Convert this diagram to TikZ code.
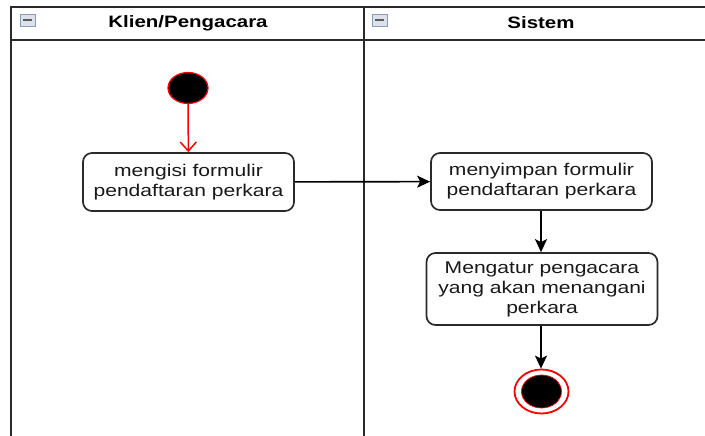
\documentclass[tikz,border=0pt]{standalone}
\usepackage{fontspec}
\setmainfont[FakeStretch=1.24]{Liberation Sans}
\usetikzlibrary{arrows.meta,shapes.geometric}
\definecolor{frame}{HTML}{2A2A2A}
\definecolor{iconfill}{HTML}{DCE2EC}
\definecolor{iconline}{HTML}{8C9AB2}
\definecolor{umlred}{HTML}{FF0000}
\tikzset{
  lane/.style={draw=frame, line width=2pt},
  act/.style={draw=frame, line width=1.7pt, rounded corners=9pt, fill=white, align=center,
    inner sep=0pt, font=\fontsize{17}{20}\selectfont, text=black!90},
  flow/.style={draw=black, line width=1.6pt, -{Stealth[length=13pt,width=12pt,inset=3pt]}},
  redflow/.style={draw=umlred, line width=1.5pt, -{Straight Barb[length=9pt,width=16pt]}},
  hdr/.style={font=\bfseries\fontsize{16.5}{18}\selectfont, text=black},
  icon/.style={draw=iconline, fill=iconfill, line width=0.9pt, minimum width=15pt, minimum height=12pt, inner sep=0pt},
}
\begin{document}
\begin{tikzpicture}[x=1pt,y=-1pt]
\useasboundingbox (0,0) rectangle (705,436);
\fill[white] (0,0) rectangle (705,436);
% swimlane frame
\draw[lane] (11,436) -- (11,7) -- (705,7);
\draw[lane] (11,40) -- (705,40);
\draw[lane] (364,7) -- (364,436);
% collapse icons
\node[icon] (ic1) at (27.5,20) {};
\draw[black!65, line width=1.8pt] ([xshift=3.5pt]ic1.west) -- ([xshift=-3.5pt]ic1.east);
\node[icon] (ic2) at (379.5,20) {};
\draw[black!65, line width=1.8pt] ([xshift=3.5pt]ic2.west) -- ([xshift=-3.5pt]ic2.east);
% headers
\node[hdr] (h1) at (188,23) {Klien/Pengacara};
\node[hdr] (h2) at (541,23) {Sistem};
% start
\node[draw=umlred, fill=black, ellipse, line width=1.2pt, minimum width=40pt, minimum height=31pt, inner sep=0pt] (start) at (188,88) {};
% activities
\node[act, minimum width=211pt, minimum height=58pt] (a1) at (188.5,182) {mengisi formulir\\pendaftaran perkara};
\node[act, minimum width=221pt, minimum height=57pt] (a2) at (541.5,181.5) {menyimpan formulir\\pendaftaran perkara};
\node[act, minimum width=231pt, minimum height=72pt] (a3) at (542,289) {Mengatur pengacara\\yang akan menangani\\perkara};
% end
\node[draw=umlred, fill=white, ellipse, line width=1.8pt, minimum width=54pt, minimum height=44pt, inner sep=0pt] (endo) at (541.5,391.5) {};
\node[draw=umlred, fill=black, ellipse, line width=0.7pt, minimum width=40pt, minimum height=33pt, inner sep=0pt] (endi) at (541.5,391.5) {};
% flows
\draw[redflow] (start) -- (a1);
\draw[flow] (a1) -- (a2);
\draw[flow] (a2.south -| 541,0) -- (a3.north -| 541,0);
\draw[flow] (a3.south -| 541,0) -- (endo.north -| 541,0);
\end{tikzpicture}
\end{document}
